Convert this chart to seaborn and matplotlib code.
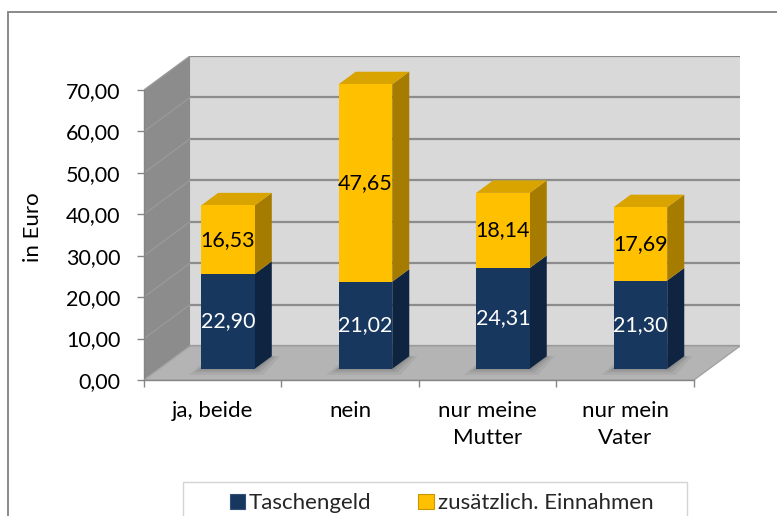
import matplotlib
matplotlib.use("Agg")
import matplotlib.pyplot as plt
import seaborn as sns
import pandas as pd
import numpy as np
from matplotlib.patches import Polygon, Rectangle, Patch
from matplotlib.ticker import FuncFormatter

# ---- data ----
categories = ["ja, beide", "nein", "nur meine\nMutter", "nur mein\nVater"]
taschengeld = [22.90, 21.02, 24.31, 21.30]
zusaetzlich = [16.53, 47.65, 18.14, 17.69]
series_names = ["Taschengeld", "zusätzlich. Einnahmen"]
y_ticks = [0, 10, 20, 30, 40, 50, 60, 70]
y_label = "in Euro"

# ---- style ----
sns.set_theme(style="white")
plt.rcParams['font.family'] = ['Lato', 'DejaVu Sans']
FS = 16      # text
FN = 15.5    # numbers

BLUE, BLUE_SIDE = '#17375e', '#0f2440'
YEL, YEL_SIDE, YEL_TOP = '#ffc000', '#a57b00', '#d9a300'
GRID = '#8c8c8c'
AXC = '#868686'

def fmt(v):
    return f"{v:.2f}".replace('.', ',')

W, H = 777, 516
fig = plt.figure(figsize=(W / 100, H / 100), dpi=100)
ax = fig.add_axes([144 / W, (H - 380) / H, 596 / W, 324 / H])
ax.patch.set_visible(False)

# 3D projection offsets (oblique): depth -> (DX in category units, DY in value units)
DX, DY = 0.335, 8.2
ZF, ZB = 0.33, 0.70      # front / back depth of the bars
BW = 0.39                # bar width in category units
n = len(categories)
ymax = y_ticks[-1]
x0, x1 = -0.5, n - 0.5

# back wall + gridlines
ax.add_patch(Rectangle((x0 + DX, DY), x1 - x0, ymax, fc='#d9d9d9', ec='none', zorder=0))
for v in y_ticks:
    ax.plot([x0 + DX, x1 + DX], [v + DY, v + DY], color=GRID, lw=1.6, zorder=1,
            solid_capstyle='butt')
# left side wall
ax.add_patch(Polygon([(x0, 0), (x0, ymax), (x0 + DX, ymax + DY), (x0 + DX, DY)],
                     closed=True, fc='#8c8c8c', ec='none', zorder=2))
for v in y_ticks[1:]:
    ax.plot([x0, x0 + DX], [v, v + DY], color='#999999', lw=1, zorder=2.1)
# floor
ax.add_patch(Polygon([(x0, 0), (x1, 0), (x1 + DX, DY), (x0 + DX, DY)], closed=True,
                     fc='#b4b4b4', ec='#a3a3a3', lw=1, zorder=2.2))

# ---- bars (front faces via seaborn) ----
totals = list(np.add(taschengeld, zusaetzlich))
df = pd.DataFrame({"pos": np.arange(n) + ZF * DX, "total": totals, "blue": taschengeld})
base = ZF * DY
sns.barplot(data=df, x="pos", y="total", native_scale=True, orient="x", color=YEL,
            saturation=1, width=BW, errorbar=None, bottom=base, linewidth=0,
            edgecolor='none', zorder=5, ax=ax)
sns.barplot(data=df, x="pos", y="blue", native_scale=True, orient="x", color=BLUE,
            saturation=1, width=BW, errorbar=None, bottom=base, linewidth=0,
            edgecolor='none', zorder=5.1, ax=ax)

ddx, ddy = (ZB - ZF) * DX, (ZB - ZF) * DY
for i in range(n):
    xc = i + ZF * DX
    xl, xr = xc - BW / 2, xc + BW / 2
    tb, tot = taschengeld[i], totals[i]
    # soft shadow on the floor
    for k, a in [(0.06, 0.05), (0.035, 0.07), (0.015, 0.09)]:
        ax.add_patch(Polygon([(xl - k * 1.5, base - k * 25), (xr + k, base - k * 25),
                              (xr + ddx + k, base + ddy), (xl + ddx - k, base + ddy)],
                             closed=True, fc='black', alpha=a, ec='none', zorder=3))
    # side faces
    ax.add_patch(Polygon([(xr, base), (xr + ddx, base + ddy), (xr + ddx, base + tb + ddy),
                          (xr, base + tb)], closed=True, fc=BLUE_SIDE, ec='none', zorder=4))
    ax.add_patch(Polygon([(xr, base + tb), (xr + ddx, base + tb + ddy),
                          (xr + ddx, base + tot + ddy), (xr, base + tot)], closed=True,
                         fc=YEL_SIDE, ec='none', zorder=4))
    # top face
    ax.add_patch(Polygon([(xl, base + tot), (xr, base + tot), (xr + ddx, base + tot + ddy),
                          (xl + ddx, base + tot + ddy)], closed=True, fc=YEL_TOP,
                         ec='none', zorder=4))
    # data labels
    ax.text(xc, base + tb / 2, fmt(tb), color='white', ha='center', va='center',
            fontsize=FN, zorder=10)
    ax.text(xc, base + tb + zusaetzlich[i] / 2, fmt(zusaetzlich[i]), color='black',
            ha='center', va='center', fontsize=FN, zorder=10)

# ---- axes ----
ax.set_xlim(x0, x1 + DX)
ax.set_ylim(0, ymax + DY)
for s in ['top', 'right']:
    ax.spines[s].set_visible(False)
for s in ['left', 'bottom']:
    ax.spines[s].set_color(AXC)
    ax.spines[s].set_linewidth(1)
    ax.spines[s].set_zorder(6)
ax.spines['left'].set_bounds(0, ymax)
ax.spines['bottom'].set_bounds(x0, x1)

ax.set_yticks(y_ticks)
ax.yaxis.set_major_formatter(FuncFormatter(lambda v, p: fmt(v)))
ax.set_xticks(np.arange(n + 1) - 0.5)
ax.set_xticklabels([])
ax.set_xticks(np.arange(n), minor=True)
ax.set_xticklabels(categories, minor=True, linespacing=1.45)
ax.tick_params(axis='x', which='major', length=5, width=1, color=AXC, direction='out',
               bottom=True)
ax.tick_params(axis='x', which='minor', length=0, pad=15, labelsize=FS, bottom=True,
               labelcolor='black')
ax.tick_params(axis='y', length=5, width=1, color=AXC, direction='out', pad=12,
               labelsize=FN, left=True, labelcolor='black')
ax.set_xlabel('')
ax.set_ylabel(y_label, fontsize=FS, color='black')
ax.yaxis.set_label_coords(-0.170, 0.472)

# ---- outer chart border ----
fig.add_artist(Rectangle((7.5 / W, -0.1), 1.2, (H - 11.5) / H + 0.1,
                         transform=fig.transFigure, fill=False, ec='#8a8a8a', lw=1.4))

# ---- legend ----
fig.add_artist(Rectangle((183 / W, -0.1), (687 - 183) / W, (H - 482) / H + 0.1,
                         transform=fig.transFigure, fill=False, ec='#d4d4d4', lw=1))
handles = [Patch(fc=BLUE, ec='#30507a', lw=0.8), Patch(fc=YEL, ec='#c99700', lw=0.8)]
fig.legend(handles, series_names, loc='center left', bbox_to_anchor=(230 / W, (H - 503) / H),
           ncol=2, frameon=False, fontsize=FS, handlelength=0.68, handleheight=0.68,
           handletextpad=0.18, columnspacing=2.1, borderpad=0, borderaxespad=0)

fig.savefig('out.png', dpi=100)
